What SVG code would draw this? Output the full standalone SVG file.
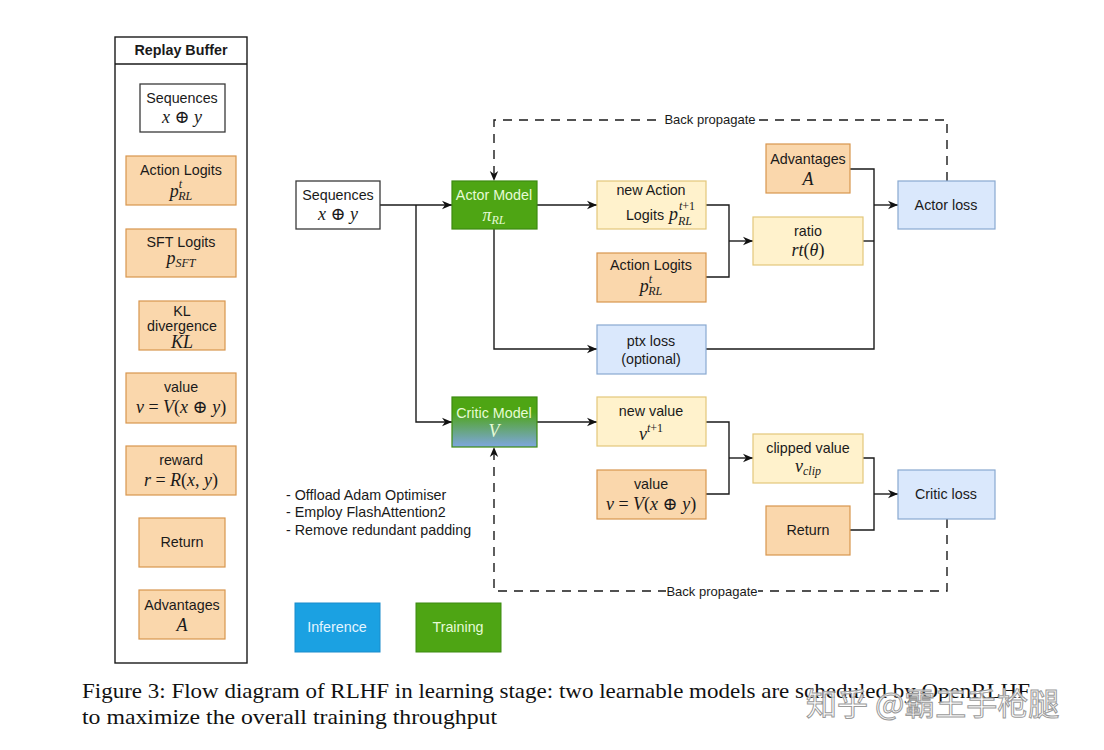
<svg xmlns="http://www.w3.org/2000/svg" width="1104" height="750" viewBox="0 0 1104 750">
<style>
.t{font-family:"Liberation Sans",Arial,sans-serif;font-size:14.3px;fill:#1a1a1a;text-anchor:middle}
.b{font-weight:bold}
.m{font-family:"Liberation Serif","DejaVu Serif",serif;font-style:italic;font-size:18px;fill:#1a1a1a;text-anchor:middle}
.u{font-style:normal}
.s{font-size:12px}
.org{fill:#fad7ac;stroke:#d8964e;stroke-width:1.2}
.yel{fill:#fff2cc;stroke:#e3c77a;stroke-width:1.2}
.blu{fill:#dae8fc;stroke:#89a8d0;stroke-width:1.2}
.wht{fill:#ffffff;stroke:#3a3a3a;stroke-width:1.3}
.lnk{fill:none;stroke:#1a1a1a;stroke-width:1.4}
.dsh{fill:none;stroke:#1a1a1a;stroke-width:1.4;stroke-dasharray:9 7}
.lt{fill:#e6fbd6}
.cap{font-family:"Liberation Serif","Times New Roman",serif;font-size:22px;fill:#111}
</style>
<defs>
<marker id="arr" viewBox="0 0 10 10" refX="10" refY="5" markerWidth="10" markerHeight="10" markerUnits="userSpaceOnUse" orient="auto">
<path d="M0,0.8 L10,5 L0,9.2 L3,5 z" fill="#111"/>
</marker>
<linearGradient id="critic" x1="0" y1="0" x2="0" y2="1">
<stop offset="0.3" stop-color="#4ea514"/>
<stop offset="1" stop-color="#7ea6e0"/>
</linearGradient>
</defs>
<rect width="1104" height="750" fill="#ffffff"/>

<!-- Replay buffer -->
<g id="replay-buffer">
<rect x="115" y="37" width="132" height="626" fill="#ffffff" stroke="#1a1a1a" stroke-width="1.4"/>
<line x1="115" y1="64" x2="247" y2="64" stroke="#1a1a1a" stroke-width="1.4"/>
<text class="t b" x="181" y="55">Replay Buffer</text>
</g>
<g id="rb-sequences">
<rect class="wht" x="140" y="84" width="85" height="48"/>
<text class="t" x="182" y="103">Sequences</text>
<text class="m" x="182" y="123">x<tspan class="u"> ⊕ </tspan>y</text>
</g>
<g id="rb-action-logits">
<rect class="org" x="126" y="156" width="110" height="49"/>
<text class="t" x="181" y="175">Action Logits</text>
<text class="m" x="181" y="197">p<tspan class="s" dy="-9">t</tspan><tspan class="s" dx="-4" dy="12">RL</tspan></text>
</g>
<g id="rb-sft-logits">
<rect class="org" x="126" y="229" width="110" height="48"/>
<text class="t" x="181" y="247">SFT Logits</text>
<text class="m" x="181" y="264">p<tspan class="s" dy="3">SFT</tspan></text>
</g>
<g id="rb-kl">
<rect class="org" x="139" y="301" width="86" height="49"/>
<text class="t" x="182" y="316">KL</text>
<text class="t" x="182" y="331">divergence</text>
<text class="m" x="182" y="348">KL</text>
</g>
<g id="rb-value">
<rect class="org" x="126" y="373" width="110" height="50"/>
<text class="t" x="181" y="392">value</text>
<text class="m" x="181" y="413">v<tspan class="u"> = </tspan>V<tspan class="u">(</tspan>x<tspan class="u"> ⊕ </tspan>y<tspan class="u">)</tspan></text>
</g>
<g id="rb-reward">
<rect class="org" x="126" y="446" width="110" height="49"/>
<text class="t" x="181" y="465">reward</text>
<text class="m" x="181" y="486">r<tspan class="u"> = </tspan>R<tspan class="u">(</tspan>x<tspan class="u">, </tspan>y<tspan class="u">)</tspan></text>
</g>
<g id="rb-return">
<rect class="org" x="139" y="518" width="86" height="49"/>
<text class="t" x="182" y="547">Return</text>
</g>
<g id="rb-advantages">
<rect class="org" x="139" y="590" width="86" height="49"/>
<text class="t" x="182" y="610">Advantages</text>
<text class="m" x="182" y="631">A</text>
</g>

<!-- Connectors -->
<g id="connectors">
<path class="lnk" d="M380,205 H452" marker-end="url(#arr)"/>
<path class="lnk" d="M416,205 V422 H452" marker-end="url(#arr)"/>
<path class="lnk" d="M537,205 H597" marker-end="url(#arr)"/>
<path class="lnk" d="M494,229 V349 H597" marker-end="url(#arr)"/>
<path class="lnk" d="M706,205 H729 V277 H706"/>
<path class="lnk" d="M729,241 H753" marker-end="url(#arr)"/>
<path class="lnk" d="M850,169 H874 V349 H706"/>
<path class="lnk" d="M863,241 H874"/>
<path class="lnk" d="M874,205 H898" marker-end="url(#arr)"/>
<path class="lnk" d="M537,422 H597" marker-end="url(#arr)"/>
<path class="lnk" d="M706,422 H729 V494 H706"/>
<path class="lnk" d="M729,458 H753" marker-end="url(#arr)"/>
<path class="lnk" d="M863,458 H874 V530 H850"/>
<path class="lnk" d="M874,494 H898" marker-end="url(#arr)"/>
<path class="dsh" d="M947,181 V120 H494 V181" marker-end="url(#arr)"/>
<path class="dsh" d="M947,519 V591 H494 V447" marker-end="url(#arr)"/>
<rect x="661" y="110" width="98" height="18" fill="#ffffff"/>
<text class="t" x="710" y="124" style="font-size:13px">Back propagate</text>
<rect x="666" y="582" width="92" height="18" fill="#ffffff"/>
<text class="t" x="712" y="596" style="font-size:13px">Back propagate</text>
</g>

<!-- Main nodes -->
<g id="sequences">
<rect class="wht" x="296" y="181" width="84" height="48"/>
<text class="t" x="338" y="200">Sequences</text>
<text class="m" x="338" y="220">x<tspan class="u"> ⊕ </tspan>y</text>
</g>
<g id="actor-model">
<rect x="452" y="181" width="85" height="48" fill="#4ea514" stroke="#3d8a10" stroke-width="1.2"/>
<text class="t lt" x="494" y="200">Actor Model</text>
<text class="m lt" x="494" y="221">π<tspan class="s" dy="3">RL</tspan></text>
</g>
<g id="critic-model">
<rect x="452" y="397" width="85" height="50" fill="url(#critic)" stroke="#3d8a10" stroke-width="1.2"/>
<text class="t lt" x="494" y="418">Critic Model</text>
<text class="m lt" x="494" y="437">V</text>
</g>
<g id="new-action-logits">
<rect class="yel" x="597" y="181" width="109" height="48"/>
<text class="t" x="651" y="195">new Action</text>
<text class="t" x="645" y="220">Logits</text>
<text class="m" x="669" y="220" style="text-anchor:start">p</text>
<text class="m s" x="679" y="210" style="text-anchor:start">t<tspan class="u">+1</tspan></text>
<text class="m s" x="678" y="225" style="text-anchor:start">RL</text>
</g>
<g id="action-logits">
<rect class="org" x="597" y="253" width="109" height="49"/>
<text class="t" x="651" y="270">Action Logits</text>
<text class="m" x="651" y="292">p<tspan class="s" dy="-9">t</tspan><tspan class="s" dx="-4" dy="12">RL</tspan></text>
</g>
<g id="ratio">
<rect class="yel" x="753" y="217" width="110" height="48"/>
<text class="t" x="808" y="236">ratio</text>
<text class="m" x="808" y="256">rt<tspan class="u">(</tspan>θ<tspan class="u">)</tspan></text>
</g>
<g id="advantages">
<rect class="org" x="766" y="144" width="84" height="49"/>
<text class="t" x="808" y="164">Advantages</text>
<text class="m" x="808" y="185">A</text>
</g>
<g id="actor-loss">
<rect class="blu" x="898" y="181" width="97" height="48"/>
<text class="t" x="946" y="210">Actor loss</text>
</g>
<g id="ptx-loss">
<rect class="blu" x="597" y="325" width="109" height="49"/>
<text class="t" x="651" y="346">ptx loss</text>
<text class="t" x="651" y="364">(optional)</text>
</g>
<g id="new-value">
<rect class="yel" x="597" y="397" width="109" height="49"/>
<text class="t" x="651" y="416">new value</text>
<text class="m" x="651" y="440">v<tspan class="s" dy="-8">t<tspan class="u">+1</tspan></tspan></text>
</g>
<g id="clipped-value">
<rect class="yel" x="753" y="434" width="110" height="49"/>
<text class="t" x="808" y="453">clipped value</text>
<text class="m" x="808" y="472">v<tspan class="s" dy="3">clip</tspan></text>
</g>
<g id="value">
<rect class="org" x="597" y="470" width="109" height="49"/>
<text class="t" x="651" y="489">value</text>
<text class="m" x="651" y="510">v<tspan class="u"> = </tspan>V<tspan class="u">(</tspan>x<tspan class="u"> ⊕ </tspan>y<tspan class="u">)</tspan></text>
</g>
<g id="return">
<rect class="org" x="766" y="506" width="84" height="49"/>
<text class="t" x="808" y="535">Return</text>
</g>
<g id="critic-loss">
<rect class="blu" x="898" y="470" width="97" height="49"/>
<text class="t" x="946" y="499">Critic loss</text>
</g>

<g id="notes">
<text class="t" x="286" y="500" style="text-anchor:start">- Offload Adam Optimiser</text>
<text class="t" x="286" y="517" style="text-anchor:start">- Employ FlashAttention2</text>
<text class="t" x="286" y="535" style="text-anchor:start">- Remove redundant padding</text>
</g>

<g id="legend-inference">
<rect x="295" y="603" width="85" height="49" fill="#1ba1e2" stroke="#1a8ccc" stroke-width="1"/>
<text class="t" x="337" y="632" style="fill:#e3f5ff">Inference</text>
</g>
<g id="legend-training">
<rect x="416" y="603" width="85" height="49" fill="#4ea514" stroke="#3d8a10" stroke-width="1"/>
<text class="t" x="458" y="632" style="fill:#e6fbd6">Training</text>
</g>

<g id="caption">
<text class="cap" x="82" y="698" textLength="948" lengthAdjust="spacingAndGlyphs">Figure 3: Flow diagram of RLHF in learning stage: two learnable models are scheduled by OpenRLHF</text>
<text class="cap" x="82" y="724" textLength="415" lengthAdjust="spacingAndGlyphs">to maximize the overall training throughput</text>
</g>
<g id="watermark">
<text x="806" y="715" style="font-family:'Noto Sans CJK SC','Noto Sans',sans-serif;font-size:31px;fill:#ffffff;fill-opacity:0.8;stroke:#9a9a9a;stroke-width:1">知乎 @霸王手枪腿</text>
</g>
</svg>
